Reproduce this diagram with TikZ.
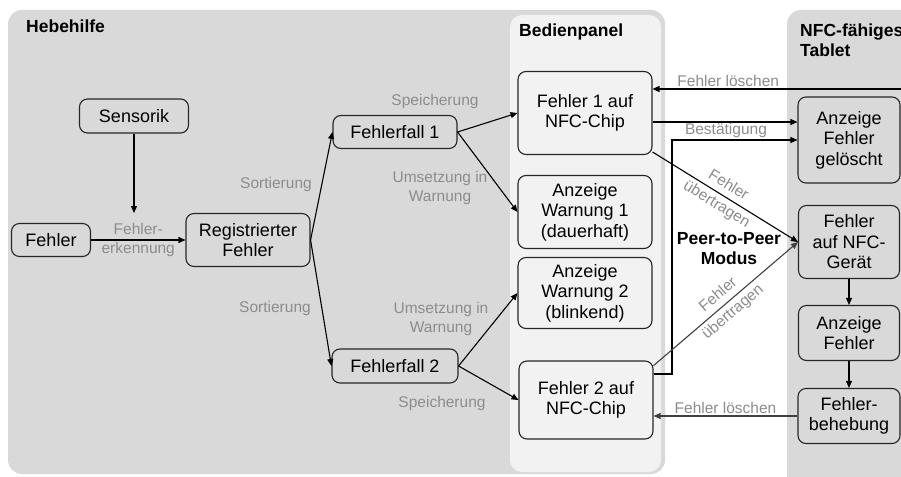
\documentclass[tikz,border=0pt]{standalone}
\usepackage{fontspec}
\setmainfont{Liberation Sans}
\usetikzlibrary{arrows.meta}

\definecolor{panelgrey}{HTML}{D9D9D9}
\definecolor{panellight}{HTML}{F2F2F2}
\definecolor{labelgrey}{HTML}{8C8C8C}
\definecolor{linegrey}{HTML}{404040}

\begin{document}
\begin{tikzpicture}[x=1pt, y=-1pt,
  every node/.style = {align=center, inner sep=2pt},
  box/.style = {shape=rectangle, rounded corners=8pt, draw=black!85, line width=1.1pt,
    font=\fontsize{18}{20.5}\selectfont},
  hbox/.style = {box, fill=panelgrey},
  pbox/.style = {box, fill=panellight},
  tbox/.style = {box, fill=panelgrey},
  lbl/.style = {text=labelgrey, font=\fontsize{15.5}{18.5}\selectfont},
  title/.style = {font=\fontsize{17.5}{20}\selectfont\bfseries},
  arr/.style = {-{Triangle[length=7pt,width=6pt]}, line width=1.1pt}]

  \useasboundingbox (0,0) rectangle (901,476);
  \clip (0,0) rectangle (901,476);
  \fill[white] (0,0) rectangle (901,476);

  % panels
  \fill[panelgrey, rounded corners=14pt] (8,10) rectangle (665,474);
  \fill[panellight, rounded corners=12pt] (510,15) rectangle (661,472);
  \fill[panelgrey, rounded corners=14pt] (787,10) rectangle (930,500);

  \node[title, anchor=base west] (hebe) at (24,33) {Hebehilfe};
  \node[title, anchor=base west] (bed) at (517,37) {Bedienpanel};
  \node[title, anchor=north west, align=left] (tab) at (798,22) {NFC-fähiges\\Tablet};

  % Hebehilfe
  \node[hbox, minimum width=109pt, minimum height=34pt] (sens) at (134,116) {Sensorik};
  \node[hbox, minimum width=79pt, minimum height=33pt] (fehler) at (51,240) {Fehler};
  \node[hbox, minimum width=124pt, minimum height=53pt] (reg) at (248,240) {Registrierter\\Fehler};
  \node[hbox, minimum width=124pt, minimum height=33pt] (ff1) at (395,132) {Fehlerfall 1};
  \node[hbox, minimum width=126pt, minimum height=34pt] (ff2) at (395,366) {Fehlerfall 2};

  % Bedienpanel
  \node[pbox, minimum width=134pt, minimum height=83pt] (nfc1) at (585,113) {Fehler 1 auf\\NFC-Chip};
  \node[pbox, minimum width=134pt, minimum height=73pt] (warn1) at (585,212) {Anzeige\\Warnung 1\\(dauerhaft)};
  \node[pbox, minimum width=134pt, minimum height=71pt] (warn2) at (585,293) {Anzeige\\Warnung 2\\(blinkend)};
  \node[pbox, minimum width=134pt, minimum height=78pt] (nfc2) at (586,400) {Fehler 2 auf\\NFC-Chip};

  % Tablet
  \node[tbox, minimum width=102pt, minimum height=86pt] (gel) at (849,140) {Anzeige\\Fehler\\gelöscht};
  \node[tbox, minimum width=101pt, minimum height=73pt] (geraet) at (849,242) {Fehler\\auf NFC-\\Gerät};
  \node[tbox, minimum width=101pt, minimum height=55pt] (anz) at (849,333) {Anzeige\\Fehler};
  \node[tbox, minimum width=102pt, minimum height=55pt] (beh) at (849,416) {Fehler-\\behebung};

  \node[title] (p2p) at (729,249) {Peer-to-Peer\\Modus};

  % labels
  \node[lbl] (sort1) at (276,184) {Sortierung};
  \node[lbl] (sort2) at (275,308) {Sortierung};
  \node[lbl] (spei1) at (435,101) {Speicherung};
  \node[lbl] (spei2) at (442,403) {Speicherung};
  \node[lbl] (ums1) at (440,188) {Umsetzung in\\Warnung};
  \node[lbl] (ums2) at (441,319) {Umsetzung in\\Warnung};

  % arrows
  \coordinate (senstip) at (134,213);
  \coordinate (tabedge) at (905,89);
  \draw[arr] (sens.south) -- (senstip);
  \draw[arr] (fehler) -- (reg) node[lbl, midway] {Fehler-\\[1pt]erkennung};
  \draw[arr] (reg.east) -- (ff1.west);
  \draw[arr] (reg.east) -- (ff2.west);
  \draw[arr] (ff1.east) -- (nfc1.west);
  \draw[arr] (ff1.east) -- (warn1.west);
  \draw[arr] (ff2.east) -- (warn2.west);
  \draw[arr] (ff2.east) -- (nfc2.west);

  \draw[arr] (tabedge) -- (tabedge -| nfc1.east) node[lbl, above, pos=0.7] {Fehler löschen};
  \draw[arr] (nfc1.east |- 0,122) -- (gel.west |- 0,122);
  \draw[arr] (nfc2.east |- 0,374) -| (672,140) -- (gel.west |- 0,140)
    node[lbl, above, pos=0.43] {Bestätigung};
  \draw[arr] (nfc1.-30) -- (geraet.west) node[lbl, sloped, pos=0.48] {Fehler\\[4pt]übertragen};
  \draw[arr, linegrey] (nfc2.27) -- (geraet.west) node[lbl, sloped, pos=0.5] {Fehler\\[4pt]übertragen};
  \draw[arr] (geraet) -- (anz);
  \draw[arr] (anz) -- (beh);
  \draw[arr, linegrey] (beh.west) -- (beh.west -| nfc2.east) node[lbl, above, midway] {Fehler löschen};
\end{tikzpicture}
\end{document}
